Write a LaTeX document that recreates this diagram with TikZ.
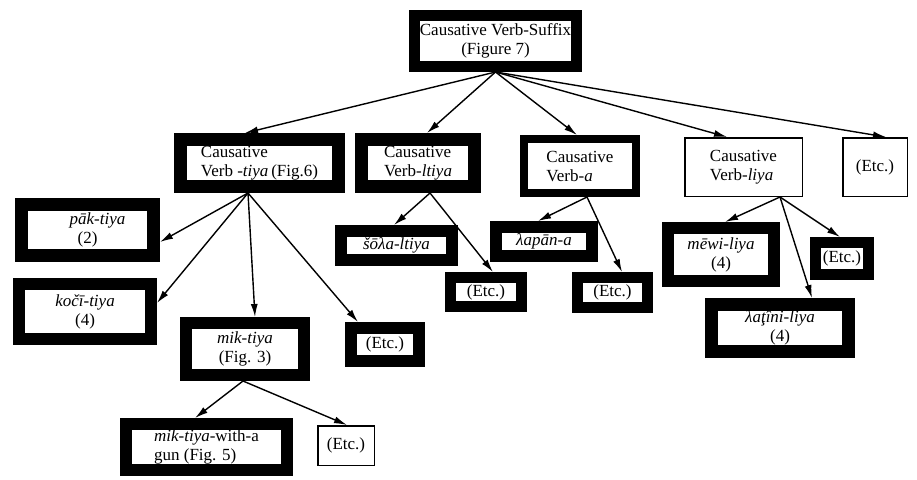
\documentclass[tikz,border=0pt]{standalone}
\usepackage{fontspec}
\setmainfont{Liberation Serif}
\usetikzlibrary{arrows.meta,calc}
\begin{document}
\begin{tikzpicture}[x=1pt,y=1pt,
  bx/.style={draw=black, fill=white, line width=#1pt, outer sep={0.5*#1pt}, inner sep=0pt,
    font=\fontsize{17}{19}\selectfont},
  arr/.style={line width=1.4pt, -{Latex[length=13pt,width=7pt]}}]
\useasboundingbox (0,0) rectangle (917,-479);
\fill[white] (0,0) rectangle (917,-479);
% level 1
\node[bx=11, minimum width=162, minimum height=51, align=center] (top) at (495.5,-41) {Causative Verb-Suffix\\(Figure 7)};
% level 2
\node[bx=13, minimum width=158, minimum height=47, align=left] (A) at (259.5,-163) {Causative\\Verb \textit{-tiya}\,(Fig.6)};
\node[bx=13, minimum width=113, minimum height=47, align=left] (B) at (418,-163) {Causative\\Verb-\textit{ltiya}};
\node[bx=8, minimum width=112, minimum height=54, align=left] (C) at (580,-166) {Causative\\Verb-\textit{a}};
\node[bx=1.5, minimum width=117.5, minimum height=58.5, align=left] (D) at (743.5,-167) {Causative\\Verb-\textit{liya}};
\node[bx=1.5, minimum width=64.5, minimum height=58.5] (E) at (875,-167) {(Etc.)};
% under A
\node[bx=13, minimum width=132, minimum height=51, align=center] (pak) at (87.5,-230) {\hspace*{20pt}\textit{pāk-tiya}\\(2)};
\node[bx=12, minimum width=132, minimum height=55, align=center] (koci) at (85,-311.5) {\textit{kočī-tiya}\\(4)};
\node[bx=12, minimum width=118, minimum height=52, align=center] (mik) at (245,-349) {\textit{mik-tiya}\\(Fig. 3)};
\node[bx=12, minimum width=68, minimum height=33] (EtcA) at (385,-344.5) {(Etc.)};
% under mik
\node[bx=12, minimum width=161, minimum height=46, align=left] (gun) at (206.5,-447) {\textit{mik-tiya}-with-a\\gun (Fig. 5)};
\node[bx=1.5, minimum width=56.5, minimum height=39.5] (EtcM) at (346,-445.5) {(Etc.)};
% under B
\node[bx=12, minimum width=111, minimum height=29] (sola) at (396.5,-245.5) {\textit{šōλa-ltiya}};
\node[bx=11, minimum width=71, minimum height=29] (EtcB) at (486,-292) {(Etc.)};
% under C
\node[bx=12, minimum width=96, minimum height=29] (lapan) at (544,-241.5) {\textit{λapān-a}};
\node[bx=11, minimum width=70, minimum height=30] (EtcC) at (612.5,-292.5) {(Etc.)};
% under D
\node[bx=12, minimum width=106, minimum height=53, align=center] (mewi) at (721,-254.5) {\textit{mēwi-liya}\\(4)};
\node[bx=13, minimum width=137, minimum height=47, align=center] (latini) at (780,-328) {\textit{λaţîni-liya}\\(4)};
\node[bx=11, minimum width=53, minimum height=32] (EtcD) at (842,-258.5) {(Etc.)};
% start points
\coordinate (As) at ($(A.south)+(-11.5,0)$);
\coordinate (Bs) at ($(B.south)+(12,0)$);
\coordinate (Cs) at ($(C.south)+(7,0)$);
\coordinate (Ds) at ($(D.south)+(36.5,0)$);
\coordinate (Ms) at ($(mik.south)+(-2,0)$);
% connectors
\draw[arr] (top.south) -- ($(A.north)+(-14.5,0)$);
\draw[arr] (top.south) -- ($(B.north)+(9,0)$);
\draw[arr] (top.south) -- ($(C.north)+(-3,0)$);
\draw[arr] (top.south) -- ($(D.north)+(-16.5,0)$);
\draw[arr] (top.south) -- ($(E.north)+(11,0)$);
\draw[arr] (As) -- ($(pak.east)+(0,-12)$);
\draw[arr] (As) -- ($(koci.east)+(0,8.5)$);
\draw[arr] (As) -- ($(mik.north)+(10,0)$);
\draw[arr] (As) -- ($(EtcA.north)+(-27,0)$);
\draw[arr] (Bs) -- ($(sola.north)+(-2.5,0)$);
\draw[arr] (Bs) -- ($(EtcB.north)+(7,0)$);
\draw[arr] (Cs) -- ($(lapan.north)+(-6,0)$);
\draw[arr] (Cs) -- ($(EtcC.north)+(9.5,0)$);
\draw[arr] (Ds) -- ($(mewi.north)+(4,0)$);
\draw[arr] (Ds) -- ($(latini.north)+(32,0)$);
\draw[arr] (Ds) -- ($(EtcD.north)+(-2,0)$);
\draw[arr] (Ms) -- ($(gun.north)+(-11.5,0)$);
\draw[arr] (Ms) -- ($(EtcM.north)+(1,0)$);
\end{tikzpicture}
\end{document}
